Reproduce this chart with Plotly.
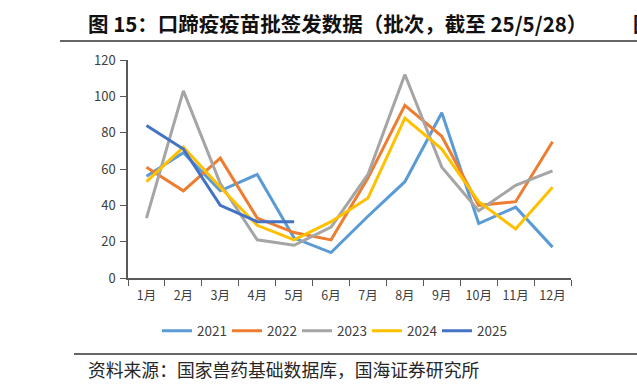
import plotly.graph_objects as go

months = ["1月", "2月", "3月", "4月", "5月", "6月", "7月", "8月", "9月", "10月", "11月", "12月"]
y2021 = [56, 69, 48, 57, 22, 14, 34, 53, 91, 30, 39, 17]
y2022 = [61, 48, 66, 33, 25, 21, 55, 95, 78, 40, 42, 75]
y2023 = [33, 103, 52, 21, 18, 28, 57, 112, 61, 37, 51, 59]
y2024 = [53, 72, 50, 29, 21, 31, 44, 88, 71, 42, 27, 50]
y2025 = [84, 71, 40, 31, 31]

series = [
    ("2021", y2021, "#5B9BD5"),
    ("2022", y2022, "#ED7D31"),
    ("2023", y2023, "#A5A5A5"),
    ("2024", y2024, "#FFC000"),
    ("2025", y2025, "#4472C4"),
]

FONT = "Noto Sans CJK SC"
L, R, T, B = 128, 571, 60, 278
PW, PH = R - L, B - T


def px(x):
    return (x - L) / PW


def py(y):
    return (B - y) / PH


fig = go.Figure()
for name, vals, color in series:
    fig.add_trace(go.Scatter(
        x=months[:len(vals)], y=vals, name=name, mode="lines",
        line=dict(color=color, width=3),
    ))

fig.update_layout(
    width=637, height=389,
    margin=dict(l=L, r=637 - R, t=T, b=389 - B),
    paper_bgcolor="white", plot_bgcolor="white",
    font=dict(family=FONT, size=12, color="#404040"),
    showlegend=True,
    legend=dict(orientation="h", x=px(157), xanchor="left", y=py(331), yanchor="middle",
                font=dict(size=13.5, color="#404040"), itemwidth=30,
                entrywidthmode="pixels", entrywidth=25,
                bgcolor="rgba(0,0,0,0)"),
    xaxis=dict(type="category", categoryorder="array", categoryarray=months,
               range=[-0.5, 11.5], showgrid=False, showline=True, linecolor="#595959",
               linewidth=1.5, ticks="outside", tickson="boundaries", ticklen=6,
               tickcolor="#595959", ticklabelstandoff=5,
               tickfont=dict(size=12.5, color="#404040")),
    yaxis=dict(range=[0, 120], dtick=20, showgrid=False, showline=True, linecolor="#595959",
               linewidth=1.5, ticks="outside", ticklen=6, tickcolor="#595959",
               ticklabelstandoff=2,
               zeroline=False, tickfont=dict(size=13, color="#404040")),
)

# Title
fig.add_annotation(xref="paper", yref="paper", x=px(86), y=py(23),
                   xanchor="left", yanchor="middle", showarrow=False,
                   text="<b>图 15：口蹄疫疫苗批签发数据（批次，截至 25/5/28）</b>",
                   font=dict(family=FONT, size=20.5, color="#111111"))
# Cropped neighbouring glyph at far right
fig.add_annotation(xref="paper", yref="paper", x=px(631), y=py(23),
                   xanchor="left", yanchor="middle", showarrow=False,
                   text="<b>图</b>", font=dict(family=FONT, size=20, color="#111111"))
# Source
fig.add_annotation(xref="paper", yref="paper", x=px(86), y=py(369),
                   xanchor="left", yanchor="middle", showarrow=False,
                   text="资料来源：国家兽药基础数据库，国海证券研究所",
                   font=dict(family=FONT, size=17.8, color="#262626"))

# Rules under title and above source
fig.add_shape(type="line", xref="paper", yref="paper",
              x0=px(60), x1=px(640), y0=py(41), y1=py(41),
              line=dict(color="#666666", width=2))
fig.add_shape(type="line", xref="paper", yref="paper",
              x0=px(74), x1=px(640), y0=py(354), y1=py(354),
              line=dict(color="#666666", width=2))

fig.write_html("out.html", config={"displayModeBar": False},
               post_script="document.body.style.margin='0';")
